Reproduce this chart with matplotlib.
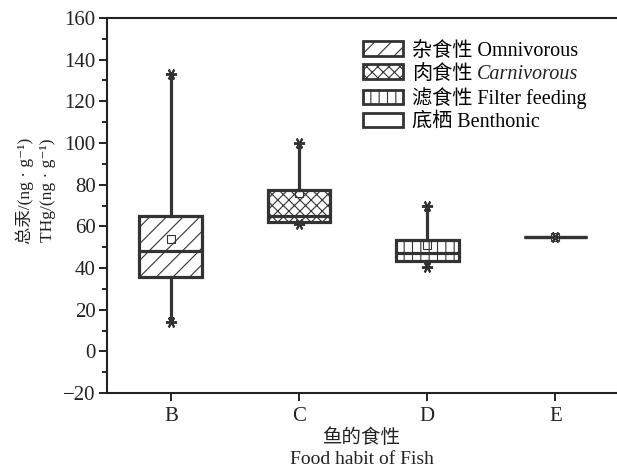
import numpy as np
import matplotlib.pyplot as plt
from matplotlib.patches import Patch
from matplotlib.ticker import MultipleLocator

plt.rcParams['font.family'] = ['Liberation Serif', 'Noto Sans CJK SC', 'DejaVu Sans']
plt.rcParams['hatch.linewidth'] = 0.8
plt.rcParams['hatch.color'] = '#444444'

# data
groups = ['B', 'C', 'D', 'E']
q1 = [35.5, 62, 43.5, 55]
med = [48, 65, 47, 55]
q3 = [65, 77.5, 53.5, 55]
means = [54, 76, 51, 55]
lows = [14, 61, 40.5, 55]
highs = [133, 100, 70, 55]
hatches = ['//', 'xxx', '||', '']
legend_labels = ['杂食性 Omnivorous', '肉食性',
                 '滤食性 Filter feeding', '底栖 Benthonic']

ec = '#333333'
fig = plt.figure(figsize=(6.17, 4.73), dpi=100)
ax = fig.add_axes([0.173, 0.169, 0.827, 0.793])

stats = []
for i in range(len(groups)):
    stats.append(dict(med=med[i], q1=q1[i], q3=q3[i], whislo=lows[i],
                      whishi=highs[i], mean=means[i], fliers=[]))
pos = np.arange(1, len(groups) + 1)
bp = ax.bxp(stats, positions=pos, widths=0.49, patch_artist=True,
            showcaps=False, showmeans=True,
            boxprops=dict(linewidth=2.3, edgecolor=ec, facecolor='white'),
            medianprops=dict(linewidth=2.3, color=ec),
            whiskerprops=dict(linewidth=2.3, color=ec),
            meanprops=dict(marker='s', markersize=6, markerfacecolor='none',
                           markeredgecolor=ec, markeredgewidth=0.8))
for b, h in zip(bp['boxes'], hatches):
    b.set_hatch(h)

# whisker end markers
ax.plot(pos, highs, ls='none', marker=(6, 2, 30), markersize=8,
        markeredgewidth=1.4, color=ec)
ax.plot(pos, lows, ls='none', marker=(6, 2, 30), markersize=8,
        markeredgewidth=1.4, color=ec)

ax.set_xlim(0.5, 4.48)
ax.set_ylim(-20, 160)
ax.set_xticks(pos)
ax.set_xticklabels(groups)
ax.yaxis.set_major_locator(MultipleLocator(20))
ax.yaxis.set_minor_locator(MultipleLocator(10))
ax.tick_params(axis='both', which='major', direction='out', length=6,
               width=1.4, labelsize=15, colors='#222222', pad=4)
ax.tick_params(axis='y', which='minor', direction='out', length=3.5, width=1.2)
ax.tick_params(axis='y', which='major', pad=2)
ax.spines['right'].set_visible(False)
for s in ['left', 'bottom', 'top']:
    ax.spines[s].set_linewidth(1.5)
    ax.spines[s].set_color('#222222')

ax.set_ylabel('总汞/(ng · g⁻¹)\nTHg/(ng · g⁻¹)', fontsize=12.5,
              linespacing=1.45, color='#222222')
ax.yaxis.set_label_coords(-0.1, 0.54)
ax.set_xlabel('鱼的食性\nFood habit of Fish', fontsize=14, linespacing=1.3,
              color='#222222', labelpad=2)

handles = [Patch(facecolor='white', edgecolor=ec, linewidth=2, hatch=h)
           for h in hatches]
leg = ax.legend(handles, legend_labels, loc='upper left',
                bbox_to_anchor=(0.475, 0.975), frameon=False, fontsize=14.5,
                handlelength=2.0, handleheight=0.72, labelspacing=0.18,
                handletextpad=0.4, borderpad=0.2)
# italic English part of the second legend entry
ax.annotate('Carnivorous', xy=(1, 0), xycoords=leg.get_texts()[1],
            xytext=(3.5, 0), textcoords='offset points', va='bottom',
            fontsize=14.5, style='italic', color='#222222', zorder=10)

fig.savefig('out.png', dpi=100)
